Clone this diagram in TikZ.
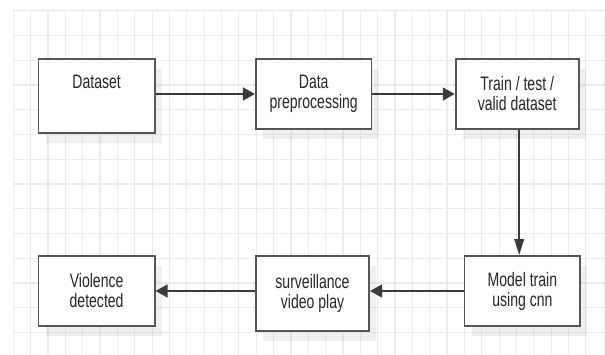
\documentclass[tikz,border=0pt]{standalone}
\usepackage{fontspec}
\newfontfamily\boxfont[FakeStretch=0.72]{Liberation Sans}
\usetikzlibrary{arrows.meta,shadows}

\definecolor{gridline}{HTML}{ECECEC}
\definecolor{boxline}{HTML}{555555}
\definecolor{arrowline}{HTML}{3A3A3A}
\definecolor{inktext}{HTML}{262626}

\tikzset{
  stepbox/.style={draw=boxline, line width=1.8pt, fill=white,
    drop shadow={shadow xshift=7pt, shadow yshift=-10pt, fill=black, opacity=0.06},
    inner sep=0pt, text=inktext, align=center,
    font=\boxfont\fontsize{19.5}{20}\selectfont},
  hflow/.style={draw=arrowline, line width=1.8pt,
    -{Triangle[length=12pt, width=13pt]}},
  vflow/.style={draw=arrowline, line width=1.8pt,
    -{Triangle[length=16pt, width=9.5pt]}},
}

\begin{document}
\begin{tikzpicture}[x=1pt, y=-1pt]
\useasboundingbox (0,0) rectangle (605,355);

% squared paper behind the chart
\fill[white] (0,0) rectangle (605,355);
\foreach \k in {0,...,34}
  \draw[gridline, line width=1.2pt] ({13.3+17.35*\k},10.7) -- ({13.3+17.35*\k},355);
\foreach \k in {0,...,13}
  \draw[gridline, line width=1.2pt] (13.3,{10.7+24.75*\k}) -- (605,{10.7+24.75*\k});

% top row
\node[stepbox, minimum width=116.2pt, minimum height=74.3pt,
      label={[anchor=center, yshift=-23.5pt, text=inktext,
              font=\boxfont\fontsize{19.5}{20}\selectfont]north:Dataset}]
      (ds) at (96.6,96.2) {};
\node[stepbox, minimum width=115.7pt, minimum height=70pt] (pre) at (313.7,94)
      {Data\\preprocessing};
\node[stepbox, minimum width=123.1pt, minimum height=70pt] (tt) at (517.2,94)
      {Train / test /\\valid dataset};

% bottom row
\node[stepbox, minimum width=115.7pt, minimum height=70pt] (mt) at (522.4,291)
      {Model train\\using cnn};
\node[stepbox, minimum width=113.4pt, minimum height=75pt] (sv) at (312.5,293.5)
      {surveillance\\video play};
\node[stepbox, minimum width=116.1pt, minimum height=70pt] (vd) at (96.6,291)
      {Violence\\detected};

% flow
\draw[hflow] (ds.east |- pre.west) -- (pre.west);
\draw[hflow] (pre.east) -- (tt.west);
\draw[vflow] ([xshift=2pt]tt.south) -- ([xshift=2pt]tt.south |- mt.north);
\draw[hflow] (mt.west) -- (mt.west -| sv.east);
\draw[hflow] (sv.west |- vd.east) -- (vd.east);
\end{tikzpicture}
\end{document}
